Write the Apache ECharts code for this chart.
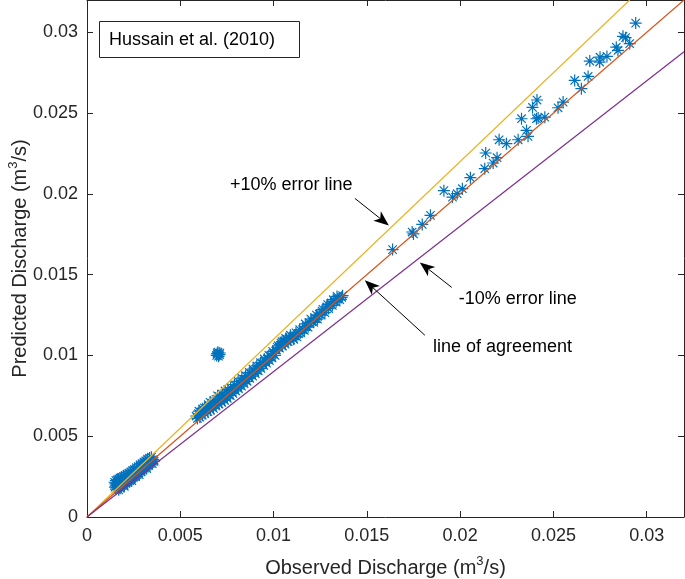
<!DOCTYPE html>
<html>
<head>
<meta charset="utf-8">
<script src="https://cdn.jsdelivr.net/npm/echarts@6/dist/echarts.min.js"></script>
<style>
html,body{margin:0;padding:0;background:#fff;}
#chart{width:685px;height:579px;}
</style>
</head>
<body>
<div id="chart"></div>
<script>
// ---------- data (observed, predicted) ----------
const lowCluster = [
 [0.00150,0.00185],[0.00152,0.00205],[0.00155,0.00172],[0.00158,0.00195],[0.00162,0.00212],
 [0.00165,0.00180],[0.00168,0.00200],[0.00172,0.00190],[0.00175,0.00215],[0.00178,0.00178],
 [0.00182,0.00205],[0.00185,0.00222],[0.00188,0.00195],[0.00192,0.00210],[0.00195,0.00228],
 [0.00198,0.00200],[0.00202,0.00218],[0.00205,0.00235],[0.00208,0.00208],[0.00212,0.00225],
 [0.00215,0.00242],[0.00218,0.00215],[0.00222,0.00232],[0.00225,0.00250],[0.00228,0.00225],
 [0.00232,0.00240],[0.00235,0.00258],[0.00238,0.00235],[0.00242,0.00250],[0.00245,0.00265],
 [0.00248,0.00245],[0.00252,0.00258],[0.00255,0.00272],[0.00258,0.00255],[0.00262,0.00268],
 [0.00265,0.00280],[0.00268,0.00262],[0.00272,0.00278],[0.00275,0.00290],[0.00278,0.00272],
 [0.00282,0.00288],[0.00285,0.00300],[0.00288,0.00285],[0.00292,0.00298],[0.00295,0.00310],
 [0.00298,0.00292],[0.00302,0.00308],[0.00305,0.00318],[0.00308,0.00302],[0.00312,0.00315],
 [0.00315,0.00328],[0.00318,0.00312],[0.00322,0.00325],[0.00325,0.00338],[0.00328,0.00320],
 [0.00332,0.00335],[0.00335,0.00345],[0.00338,0.00330],[0.00342,0.00342],[0.00345,0.00352],
 [0.00350,0.00345],[0.00355,0.00355],[0.00230,0.00228],[0.00260,0.00250],[0.00290,0.00280],
 [0.00148,0.00215],[0.00155,0.00225],[0.00162,0.00230],[0.00170,0.00235],[0.00178,0.00240],
 [0.00185,0.00245],[0.00195,0.00250],[0.00205,0.00258],[0.00215,0.00265],[0.00225,0.00272],
 [0.00235,0.00280],[0.00245,0.00288],[0.00255,0.00295],[0.00265,0.00305],[0.00275,0.00312],
 [0.00285,0.00322],[0.00295,0.00330],[0.00305,0.00340],[0.00315,0.00348],[0.00325,0.00358],
 [0.00335,0.00365],[0.00345,0.00370],
 [0.00170,0.00168],[0.00200,0.00190],[0.00240,0.00225],[0.00280,0.00262],[0.00320,0.00300],
 [0.00350,0.00330],[0.00360,0.00345]
];
const midCluster = [
 [0.00585,0.00625],[0.00592,0.00610],[0.00598,0.00640],[0.00605,0.00618],[0.00612,0.00650],
 [0.00618,0.00630],[0.00625,0.00660],[0.00632,0.00640],[0.00640,0.00668],[0.00648,0.00652],
 [0.00655,0.00680],[0.00662,0.00662],[0.00670,0.00690],[0.00678,0.00672],[0.00685,0.00700],
 [0.00692,0.00688],[0.00700,0.00712],[0.00708,0.00698],[0.00715,0.00725],[0.00722,0.00710],
 [0.00730,0.00738],[0.00738,0.00722],[0.00745,0.00748],[0.00752,0.00735],[0.00760,0.00760],
 [0.00768,0.00752],[0.00775,0.00775],[0.00782,0.00765],[0.00790,0.00790],[0.00798,0.00780],
 [0.00805,0.00805],[0.00812,0.00795],[0.00820,0.00822],[0.00828,0.00810],[0.00835,0.00838],
 [0.00842,0.00825],[0.00850,0.00852],[0.00858,0.00840],[0.00865,0.00868],[0.00872,0.00858],
 [0.00880,0.00885],[0.00888,0.00872],[0.00895,0.00902],[0.00902,0.00888],[0.00910,0.00918],
 [0.00918,0.00905],[0.00925,0.00935],[0.00932,0.00920],[0.00940,0.00950],[0.00948,0.00938],
 [0.00955,0.00965],[0.00962,0.00952],[0.00970,0.00980],[0.00978,0.00968],[0.00985,0.00995],
 [0.00992,0.00985],[0.01000,0.01012],[0.01008,0.01000],[0.01015,0.01035],[0.01025,0.01060],
 [0.01032,0.01045],[0.01040,0.01075],[0.01048,0.01058],[0.01055,0.01090],[0.01062,0.01070],
 [0.01070,0.01100],[0.01078,0.01085],[0.01085,0.01110],[0.01092,0.01095],[0.01100,0.01112],
 [0.01108,0.01100],[0.01115,0.01120],[0.01125,0.01115],[0.01135,0.01135],[0.01145,0.01140],
 [0.01155,0.01160],[0.01165,0.01155],[0.01175,0.01180],[0.01185,0.01175],[0.01195,0.01200],
 [0.01205,0.01210],[0.01215,0.01205],[0.01225,0.01230],[0.01235,0.01225],[0.01245,0.01255],
 [0.01255,0.01250],[0.01265,0.01285],[0.01275,0.01265],[0.01285,0.01300],[0.01295,0.01290],
 [0.01305,0.01320],[0.01315,0.01310],[0.01325,0.01335],[0.01335,0.01330],[0.01345,0.01350],
 [0.01355,0.01345],[0.01365,0.01360],
 [0.00620,0.00670],[0.00660,0.00710],[0.00700,0.00750],[0.00740,0.00780],
 [0.00600,0.00655],[0.00630,0.00675],[0.00650,0.00695],[0.00680,0.00720],[0.00710,0.00745],
 [0.00725,0.00760],[0.00755,0.00790],[0.00770,0.00800],[0.00790,0.00820],[0.00810,0.00840],
 [0.00830,0.00860],[0.00850,0.00875],[0.00870,0.00895],[0.00890,0.00915],[0.00910,0.00935],
 [0.00930,0.00955],[0.00950,0.00978],[0.00975,0.01000],[0.00995,0.01025],[0.01020,0.01050],
 [0.01045,0.01085],[0.01065,0.01105],[0.01090,0.01125],[0.01120,0.01140],[0.01140,0.01160],
 [0.01170,0.01195],[0.01200,0.01225],[0.01230,0.01250],[0.01260,0.01275],[0.01290,0.01315],
 [0.01320,0.01345],[0.01340,0.01365],[0.01370,0.01370]
];
const outliers = [
 [0.00695,0.01000],[0.00700,0.01010],[0.00705,0.00995],[0.00710,0.01005],
 [0.00702,0.01020],[0.00712,0.01015],[0.00698,0.01012]
];
const highPoints = [
 [0.01638,0.01655],[0.01743,0.01764],[0.01750,0.01752],[0.01797,0.01811],[0.01841,0.01867],
 [0.01913,0.02020],[0.01959,0.01980],[0.01984,0.02001],[0.02012,0.02032],[0.02055,0.02100],
 [0.02132,0.02156],[0.02137,0.02253],[0.02177,0.02191],[0.02198,0.02224],[0.02209,0.02335],
 [0.02248,0.02311],[0.02311,0.02335],[0.02329,0.02465],[0.02356,0.02393],[0.02364,0.02356],
 [0.02388,0.02535],[0.02409,0.02465],[0.02412,0.02581],[0.02418,0.02470],[0.02454,0.02475],
 [0.02525,0.02533],[0.02552,0.02568],[0.02614,0.02702],[0.02650,0.02651],[0.02686,0.02727],
 [0.02695,0.02822],[0.02748,0.02816],[0.02750,0.02846],[0.02787,0.02851],[0.02837,0.02908],
 [0.02846,0.02888],[0.02873,0.02975],[0.02887,0.02967],[0.02909,0.02930],[0.02941,0.03057]
];
// reference lines (endpoints)
const plusTenLine = [[0,0],[0.02909,0.032]];
const agreementLine = [[0,0],[0.032,0.032]];
const minusTenLine = [[0,0],[0.032,0.0288]];

const xTickLabels = ['0','0.005','0.01','0.015','0.02','0.025','0.03'];
const yTickLabels = ['0','0.005','0.01','0.015','0.02','0.025','0.03'];

// annotations in data coordinates: [tail, tip]
const arrowPlus = [[0.01436,0.01972],[0.01618,0.01805]];
const arrowMinus = [[0.01955,0.01421],[0.01784,0.01576]];
const arrowAgree = [[0.01811,0.01125],[0.01489,0.01465]];
const labelPlus = ['+10% error line', 0.00766, 0.02053];
const labelMinus = ['-10% error line', 0.01993, 0.01347];
const labelAgree = ['line of agreement', 0.01854, 0.01050];

// ---------- chart ----------
const FONT = '"Liberation Sans", Arial, Helvetica, sans-serif';
const AX = '#262626';
const allPoints = lowCluster.concat(midCluster, outliers, highPoints);
const STEP = 0.005;
function fmt(labels){
  return function(v){
    const i = Math.round(v/STEP);
    if (Math.abs(v - i*STEP) < 1e-9 && i >= 0 && i < labels.length) return labels[i];
    return '';
  };
}
const chart = echarts.init(document.getElementById('chart'));
const tickCommon = {inside:true, length:6, lineStyle:{color:AX, width:1}};
const lineCommon = {show:true, onZero:false, lineStyle:{color:AX, width:1}};
const nameRich = {
  a:{fontSize:20, fontFamily:FONT, color:AX, lineHeight:26},
  s:{fontSize:13, fontFamily:FONT, color:AX, verticalAlign:'top', lineHeight:14}
};
const option = {
  animation:false,
  backgroundColor:'#fff',
  grid:{left:87, right:1, top:0, bottom:62, containLabel:false, outerBoundsMode:'none'},
  xAxis:[{
    type:'value', min:0, max:0.032, interval:STEP, position:'bottom',
    axisLine:lineCommon, axisTick:tickCommon, splitLine:{show:false},
    axisLabel:{formatter:fmt(xTickLabels), fontSize:18, fontFamily:FONT, color:AX, margin:10, showMaxLabel:false},
    name:'{a|Observed Discharge (m}{s|3}{a|/s)}', nameLocation:'middle', nameGap:38, nameMoveOverlap:false,
    nameTextStyle:{rich:nameRich}
  },{
    type:'value', min:0, max:0.032, interval:STEP, position:'top',
    axisLine:lineCommon, axisTick:tickCommon, splitLine:{show:false}, axisLabel:{show:false}
  }],
  yAxis:[{
    type:'value', min:0, max:0.032, interval:STEP, position:'left',
    axisLine:lineCommon, axisTick:tickCommon, splitLine:{show:false},
    axisLabel:{formatter:fmt(yTickLabels), fontSize:18, fontFamily:FONT, color:AX, margin:9, showMaxLabel:false},
    name:'{a|Predicted Discharge (m}{s|3}{a|/s)}', nameLocation:'middle', nameGap:54, nameMoveOverlap:false,
    nameTextStyle:{rich:nameRich}
  },{
    type:'value', min:0, max:0.032, interval:STEP, position:'right',
    axisLine:lineCommon, axisTick:tickCommon, splitLine:{show:false}, axisLabel:{show:false}
  }],
  series:[
    {type:'scatter', data:allPoints, symbol:'path://M5,0L5,10M0,5L10,5M1.5,1.5L8.5,8.5M1.5,8.5L8.5,1.5',
     symbolSize:12, itemStyle:{color:'rgba(0,0,0,0)', borderColor:'#0072BD', borderWidth:1.2, opacity:1},
     silent:true, large:false, z:2},
    {type:'line', data:plusTenLine, showSymbol:false, silent:true, lineStyle:{color:'#EDB120', width:1.2}, z:3},
    {type:'line', data:agreementLine, showSymbol:false, silent:true, lineStyle:{color:'#D95319', width:1.2}, z:3},
    {type:'line', data:minusTenLine, showSymbol:false, silent:true, lineStyle:{color:'#7E2F8E', width:1.2}, z:3}
  ]
};
chart.setOption(option);

function px(p){ return chart.convertToPixel({gridIndex:0}, p); }
function arrow(a){
  const t0 = px(a[0]), t1 = px(a[1]);
  const dx = t1[0]-t0[0], dy = t1[1]-t0[1];
  const len = Math.sqrt(dx*dx+dy*dy);
  const ux = dx/len, uy = dy/len, nx = -uy, ny = ux;
  const L = 15, W = 6, N = 4;
  const bx = t1[0]-L*ux, by = t1[1]-L*uy;
  const mx = t1[0]-(L-N)*ux, my = t1[1]-(L-N)*uy;
  return [
    {type:'line', shape:{x1:t0[0], y1:t0[1], x2:mx, y2:my}, style:{stroke:'#000', lineWidth:1}, z:10},
    {type:'polygon', shape:{points:[[t1[0],t1[1]],[bx+W*nx,by+W*ny],[mx,my],[bx-W*nx,by-W*ny]]}, style:{fill:'#000'}, z:10}
  ];
}
function label(l){
  const p = px([l[1], l[2]]);
  return {type:'text', x:p[0], y:p[1], style:{text:l[0], fontSize:18, fontFamily:FONT, fill:'#000', verticalAlign:'middle', align:'left'}, z:10};
}
const graphics = [].concat(
  arrow(arrowPlus), arrow(arrowMinus), arrow(arrowAgree),
  [label(labelPlus), label(labelMinus), label(labelAgree),
   {type:'rect', shape:{x:99.5, y:21.5, width:200, height:36}, style:{fill:'#fff', stroke:AX, lineWidth:1}, z:10},
   {type:'text', x:109, y:40, style:{text:'Hussain et al. (2010)', fontSize:18, fontFamily:FONT, fill:'#000', verticalAlign:'middle', align:'left'}, z:11}]
);
chart.setOption({graphic:graphics});
</script>
</body>
</html>
